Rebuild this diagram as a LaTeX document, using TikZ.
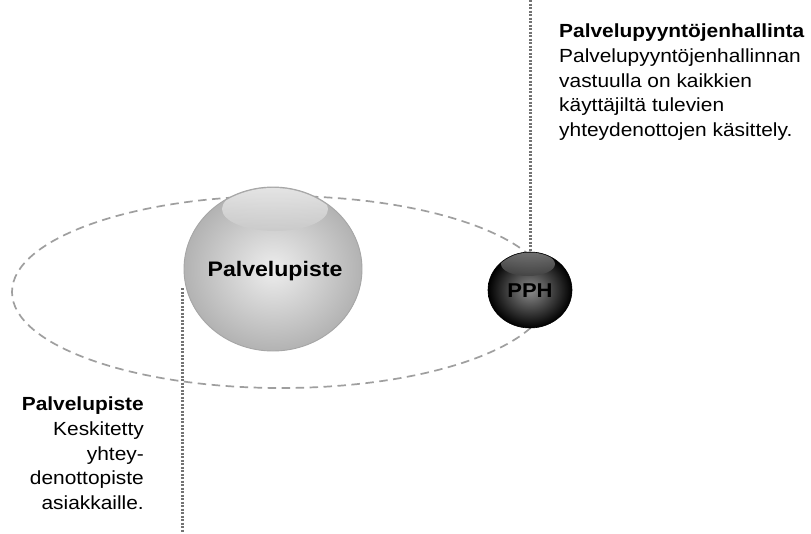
\documentclass[tikz,border=0pt]{standalone}
\usepackage{fontspec}
\setmainfont[FakeStretch=1.1]{Liberation Sans}
\usetikzlibrary{shapes.geometric}
\begin{document}
\begin{tikzpicture}[x=1pt,y=-1pt,
  orbit/.style={draw=gray!75, line width=1.7pt, dash pattern=on 8.5pt off 5.5pt},
  leader/.style={draw=black!55, line width=3pt, dash pattern=on 2pt off 1.5pt},
  bigball/.style={ellipse, minimum width=178pt, minimum height=164pt, inner sep=0pt,
    draw=gray!70, line width=0.9pt, inner color=gray!14, outer color=gray!60},
  smallball/.style={ellipse, minimum width=84pt, minimum height=76pt, inner sep=0pt,
    draw=black, line width=0.6pt, inner color=black!45, outer color=black},
  balltext/.style={font=\bfseries\fontsize{21}{24}\selectfont, inner sep=0pt},
  note/.style={font=\fontsize{19}{24.6}\selectfont, inner sep=0pt}
]
\useasboundingbox (0,0) rectangle (811,533);
\fill[white] (0,0) rectangle (811,533);

% orbit ring behind the spheres
\draw[orbit] (281,292) ellipse [x radius=269, y radius=96];

% service point sphere with its gloss
\node[bigball] (pp) at (273,269) {};
\begin{scope}
  \clip (273,269) ellipse [x radius=88, y radius=81];
  \shade[top color=gray!14, bottom color=gray!42, opacity=0.85]
    (275,209) ellipse [x radius=53, y radius=22];
\end{scope}
\node[balltext] (pplabel) at (275,271) {Palvelupiste};

% request handling sphere with its gloss
\node[smallball] (pph) at (530,290) {};
\begin{scope}
  \clip (530,290) ellipse [x radius=41.5, y radius=37.5];
  \shade[top color=black!45, bottom color=black!75, opacity=0.8]
    (528,264) ellipse [x radius=27, y radius=12];
\end{scope}
\node[font=\bfseries\fontsize{20}{23}\selectfont, inner sep=0pt] (pphlabel) at (530,291) {PPH};

% leader lines
\coordinate (ptop) at (530,0);
\coordinate (pstart) at (182,288);
\coordinate (pbot) at (182,533);
\draw[leader] (ptop) -- (pph.north);
\draw[leader] (pstart) -- (pbot);

% descriptions
\node[note, anchor=north west, align=left] (ntop) at (559,24)
  {\textbf{Palvelupyyntöjenhallinta}\\Palvelupyyntöjenhallinnan\\vastuulla on kaikkien\\käyttäjiltä tulevien\\yhteydenottojen käsittely.};
\node[note, anchor=north east, align=right] (nbot) at (144,397)
  {\textbf{Palvelupiste}\\Keskitetty\\yhtey-\\denottopiste\\asiakkaille.};
\end{tikzpicture}
\end{document}
